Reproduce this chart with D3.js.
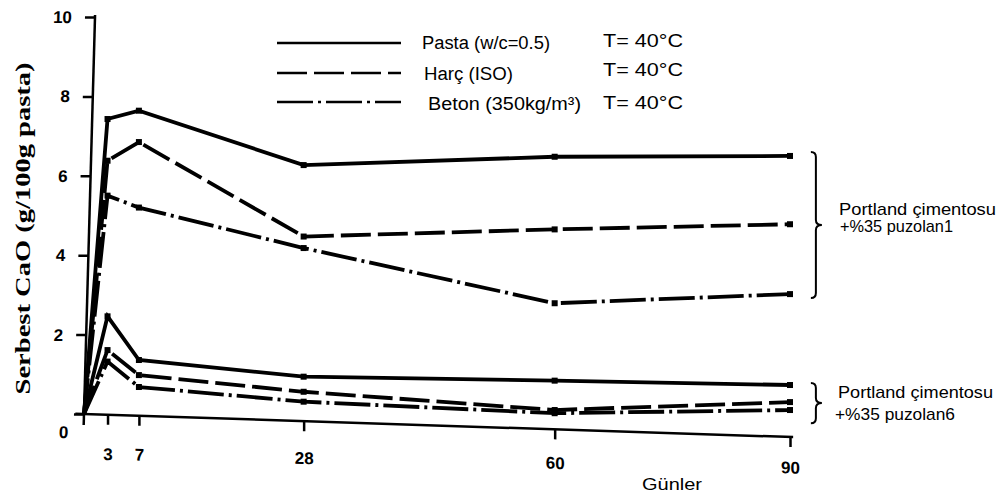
<!DOCTYPE html>
<html>
<head>
<meta charset="utf-8">
<script src="https://cdn.jsdelivr.net/npm/d3@7"></script>
<style>
  html, body { margin: 0; padding: 0; background: #fff; }
  svg { display: block; font-family: "Liberation Sans", Arial, sans-serif; }
  text { fill: #000; }
</style>
</head>
<body>
<svg id="chart" width="1006" height="498"></svg>
<script>
// Age of the specimens (days)
const days = [0, 3, 7, 28, 60, 90];

// Free CaO (g/100 g paste) — Portland cement + 35% pozzolan 1
const pasta1 = [0, 7.43, 7.64, 6.27, 6.48, 6.50];
const harc1  = [0, 6.38, 6.85, 4.47, 4.65, 4.78];
const beton1 = [0, 5.50, 5.20, 4.18, 2.79, 3.02];

// Free CaO (g/100 g paste) — Portland cement + 35% pozzolan 6
const pasta6 = [0, 2.46, 1.36, 0.94, 0.84, 0.73];
const harc6  = [0, 1.61, 0.98, 0.56, 0.10, 0.30];
const beton6 = [0, 1.32, 0.68, 0.31, 0.02, 0.10];

const xTicks = [3, 7, 28, 60, 90];
const yTicks = [0, 2, 4, 6, 8, 10];

const legendLabels = ["Pasta (w/c=0.5)", "Harç (ISO)", "Beton  (350kg/m³)"];
const tempLabel = "T= 40°C";
const groupLabels = [["Portland çimentosu", "+%35 puzolan1"], ["Portland çimentosu", "+%35 puzolan6"]];

// line styles: solid = paste, dashed = mortar, dash-dot = concrete
const dashes = [null, "30,7", "36,5,3,5"];

const SANS = "'Liberation Sans', Arial, sans-serif";
const SERIF = "'Liberation Serif', 'Times New Roman', serif";

const svg = d3.select("#chart");

const x = d3.scaleLinear().domain([0, 90]).range([84, 790]);
const y = d3.scaleLinear().domain([0, 10]).range([414, 17]);

// ---- axes (hand-drawn frame is slightly skewed) ----
const kx = -11 / 397;   // y axis leans right towards the top
const ky = 23 / 706;    // x axis drops towards the right

const yAxisG = svg.append("g")
  .attr("transform", `matrix(1,0,${kx},1,${-kx * y(0)},0)`)
  .append("g")
  .attr("transform", `translate(${x(0)},0)`)
  .call(d3.axisLeft(y).tickValues(yTicks).tickSize(10).tickSizeOuter(0).tickPadding(13));

yAxisG.select(".domain").attr("d", `M0,${y(-0.28)}V${y(10.05)}`);
yAxisG.selectAll("path, line").attr("stroke", "#000").attr("stroke-width", 2.5);
yAxisG.selectAll("text")
  .style("font-size", "17px")
  .style("font-weight", "bold")
  .style("font-family", SANS);
yAxisG.selectAll(".tick text").filter(d => d === 0).attr("x", -15).attr("y", 18);

const xAxisG = svg.append("g")
  .attr("transform", `matrix(1,${ky},0,1,0,${-ky * x(0)})`)
  .append("g")
  .attr("transform", `translate(0,${y(0)})`)
  .call(d3.axisBottom(x).tickValues(xTicks).tickSize(10).tickSizeOuter(0).tickPadding(20));

xAxisG.select(".domain").attr("d", `M${x(-1.1)},0H${x(90.4)}`);
xAxisG.selectAll("path, line").attr("stroke", "#000").attr("stroke-width", 2.5);
xAxisG.selectAll(".tick text")
  .style("font-size", "17px")
  .style("font-weight", "bold")
  .style("font-family", SANS)
  .attr("y", d => 33.5 - 9 * (x(d) - x(0)) / 706);

svg.append("text")
  .attr("x", 642).attr("y", 490)
  .style("font-size", "17px")
  .attr("textLength", 60).attr("lengthAdjust", "spacingAndGlyphs")
  .text("Günler");

svg.append("text")
  .attr("transform", `translate(30,${(y(8.8) + y(0.55)) / 2}) rotate(-90)`)
  .attr("text-anchor", "middle")
  .style("font-family", SERIF)
  .style("font-size", "22px")
  .style("font-weight", "bold")
  .attr("textLength", 332).attr("lengthAdjust", "spacingAndGlyphs")
  .text("Serbest CaO (g/100g pasta)");

// ---- data lines ----
const seriesList = [
  { values: pasta1, style: 0 }, { values: harc1, style: 1 }, { values: beton1, style: 2 },
  { values: pasta6, style: 0 }, { values: harc6, style: 1 }, { values: beton6, style: 2 }
];

const line = d3.line()
  .x((d, i) => x(days[i]))
  .y(d => y(d));

const plot = svg.append("g");
seriesList.forEach(s => {
  plot.append("path")
    .datum(s.values)
    .attr("d", line)
    .attr("fill", "none")
    .attr("stroke", "#000")
    .attr("stroke-width", 3.8)
    .attr("stroke-linejoin", "miter")
    .attr("stroke-dasharray", dashes[s.style]);
  plot.selectAll(null)
    .data(s.values.map((v, i) => ({ d: days[i], v })).filter(p => p.d > 0))
    .enter().append("rect")
    .attr("x", p => x(p.d) - 3)
    .attr("y", p => y(p.v) - 3)
    .attr("width", 6).attr("height", 6)
    .attr("fill", "#000");
});

// ---- legend ----
const legendRows = [{ ly: 43, tx: 422, tb: 49, tw: 128, tmb: 47 },
                    { ly: 73, tx: 424, tb: 80, tw: 89,  tmb: 76 },
                    { ly: 102, tx: 428, tb: 110, tw: 153, tmb: 109 }];
legendRows.forEach((r, i) => {
  svg.append("line")
    .attr("x1", 277).attr("x2", 401).attr("y1", r.ly).attr("y2", r.ly)
    .attr("stroke", "#000").attr("stroke-width", 2.5)
    .attr("stroke-dasharray", dashes[i]);
  svg.append("text")
    .attr("x", r.tx).attr("y", r.tb)
    .style("font-size", "18px")
    .attr("textLength", r.tw).attr("lengthAdjust", "spacingAndGlyphs")
    .text(legendLabels[i]);
  svg.append("text")
    .attr("x", 603).attr("y", r.tmb)
    .style("font-size", "18px")
    .attr("textLength", 80).attr("lengthAdjust", "spacingAndGlyphs")
    .text(tempLabel);
});

// ---- group braces and labels ----
function brace(x0, y0, y1) {
  const m = (y0 + y1) / 2;
  return `M${x0 - 5},${y0} Q${x0},${y0} ${x0},${y0 + 5} V${m - 5} Q${x0},${m} ${x0 + 6},${m}` +
         ` Q${x0},${m} ${x0},${m + 5} V${y1 - 5} Q${x0},${y1} ${x0 - 5},${y1}`;
}
const braces = [
  { top: 6.6, bottom: 2.92, lines: [{ x: 839, b: 215, w: 157 }, { x: 840, b: 232, w: 113 }] },
  { top: 0.78, bottom: -0.23, lines: [{ x: 838, b: 398, w: 155 }, { x: 835, b: 420, w: 120 }] }
];
braces.forEach((b, gi) => {
  svg.append("path")
    .attr("d", brace(x(93.3), y(b.top), y(b.bottom)))
    .attr("fill", "none").attr("stroke", "#000").attr("stroke-width", 2);
  b.lines.forEach((l, li) => {
    svg.append("text")
      .attr("x", l.x).attr("y", l.b)
      .style("font-size", "17px")
      .attr("textLength", l.w).attr("lengthAdjust", "spacingAndGlyphs")
      .text(groupLabels[gi][li]);
  });
});
</script>
</body>
</html>
